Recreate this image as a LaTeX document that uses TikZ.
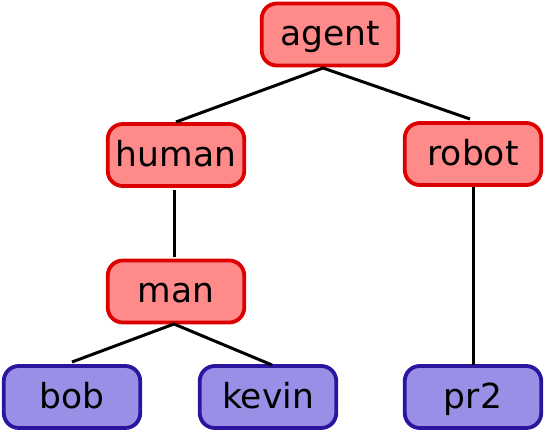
\documentclass[tikz,border=0pt]{standalone}
\usepackage{fontspec}
\setmainfont{DejaVu Sans}
\definecolor{rfill}{HTML}{FF8A8A}
\definecolor{rdraw}{HTML}{DD0000}
\definecolor{bfill}{HTML}{9A8FE6}
\definecolor{bdraw}{HTML}{2A159E}
\begin{document}
\begin{tikzpicture}[x=1pt,y=-1pt,
  box/.style={rounded corners=15pt, line width=3.8pt, minimum width=136.5pt, minimum height=62pt, inner sep=0pt, text height=24.5pt, text depth=2.5pt, font=\fontsize{34.5}{38}\selectfont},
  rbox/.style={box, draw=rdraw, fill=rfill},
  bbox/.style={box, draw=bdraw, fill=bfill},
  edge/.style={line width=3pt, black}]
\useasboundingbox (0,0) rectangle (546,433);
\node[rbox] (agent) at (330,34.5) {agent};
\node[rbox] (human) at (176,155) {human};
\node[rbox] (robot) at (473,154) {robot};
\node[rbox] (man) at (176,291.5) {man};
\node[bbox] (bob) at (72,397) {bob};
\node[bbox] (kevin) at (268,397) {kevin};
\node[bbox] (pr2) at (473,397) {pr2};
\coordinate (a0) at (323,68);
\coordinate (h0) at (176,122);
\coordinate (r0) at (470,119);
\coordinate (m0) at (174,324);
\coordinate (b0) at (72,362);
\coordinate (k0) at (272,365);
\draw[edge] (h0) -- (a0) -- (r0);
\draw[edge] (174,190) -- (174,257);
\draw[edge] (b0) -- (m0) -- (k0);
\draw[edge] (473,187) -- (473,365);
\end{tikzpicture}
\end{document}
